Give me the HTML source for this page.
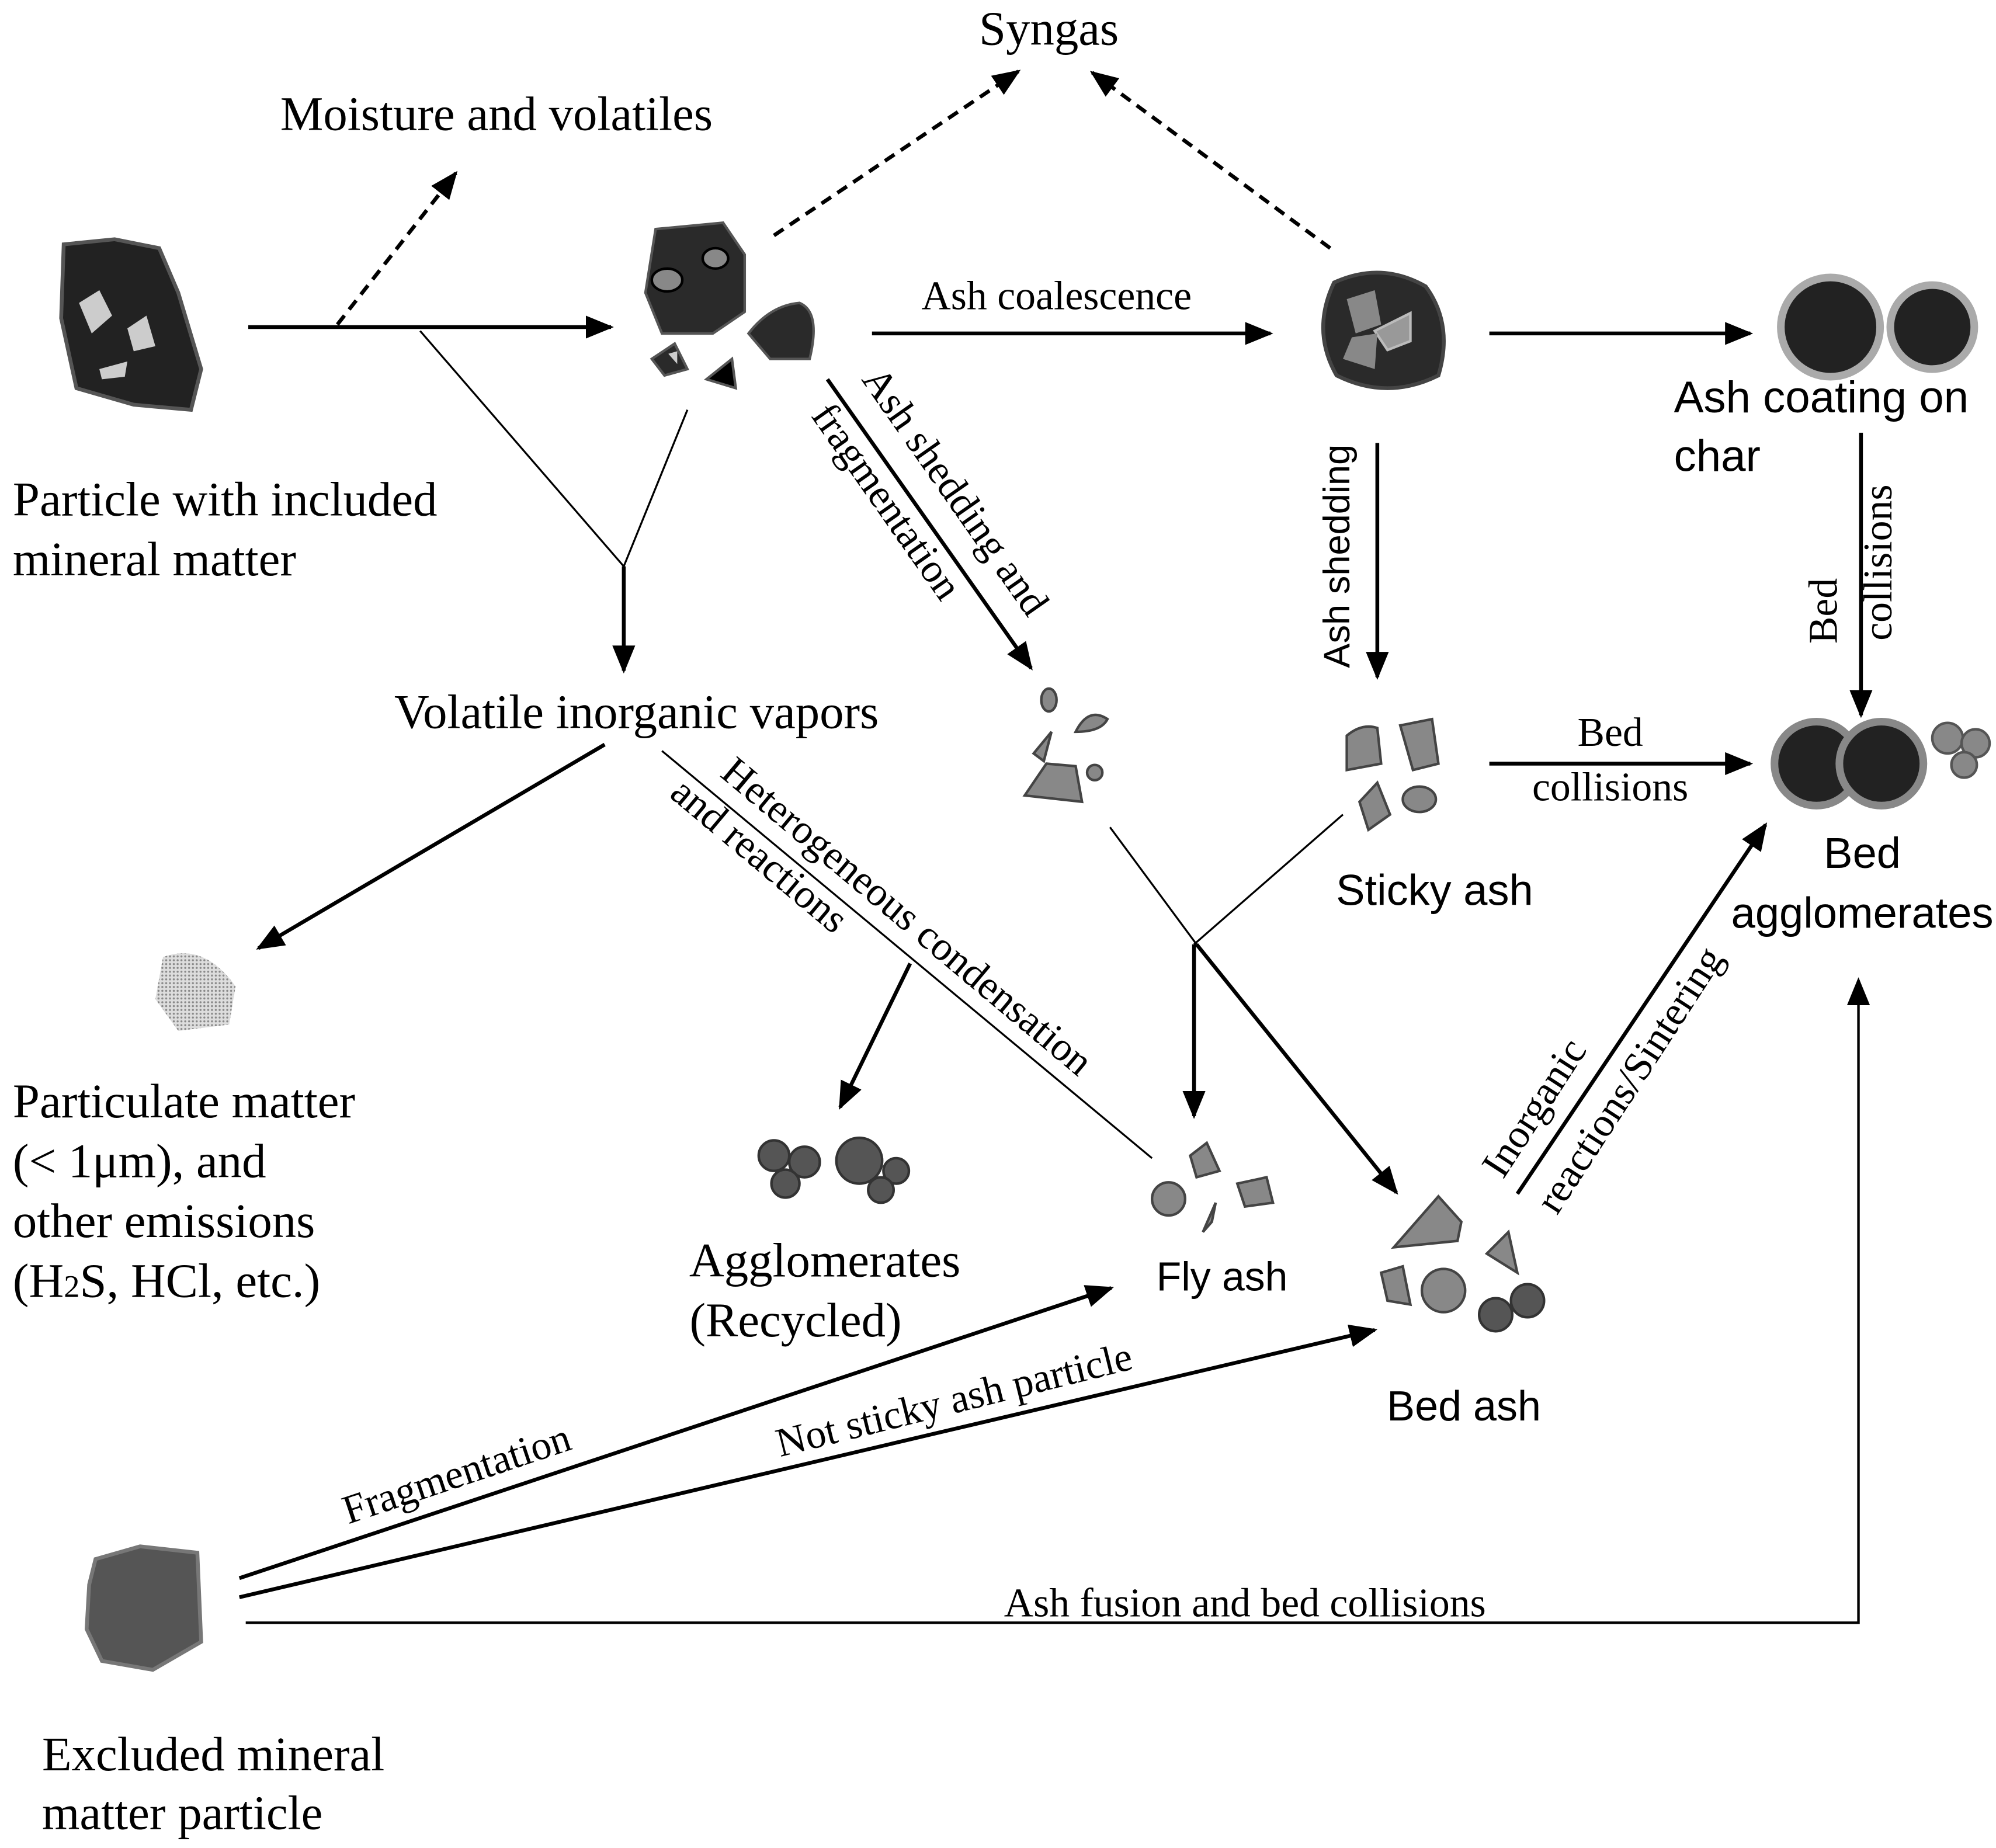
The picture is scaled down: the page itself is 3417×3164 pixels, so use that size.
<!DOCTYPE html>
<html><head><meta charset="utf-8"><style>
html,body{margin:0;padding:0;background:#fff;}
svg{display:block;}
.s{font-family:"Liberation Serif",serif;font-size:38px;fill:#000;}
.m{font-family:"Liberation Serif",serif;font-size:32px;fill:#000;}
.a{font-family:"Liberation Sans",sans-serif;font-size:34px;fill:#000;}
</style></head><body>
<svg width="3417" height="3164" viewBox="0 0 1568 1452" xmlns="http://www.w3.org/2000/svg">
<defs>
<marker id="ah" viewBox="0 0 10 10" refX="9" refY="5" markerWidth="22" markerHeight="18" markerUnits="userSpaceOnUse" orient="auto" preserveAspectRatio="none"><path d="M0,0 L10,5 L0,10 z" fill="#000"/></marker>
<pattern id="dots" width="3" height="3" patternUnits="userSpaceOnUse"><rect width="3" height="3" fill="#ddd"/><circle cx="1.5" cy="1.5" r="0.8" fill="#888"/></pattern>
</defs>
<g stroke="#000" fill="none">
<line x1="195" y1="257" x2="480" y2="257" stroke-width="3" marker-end="url(#ah)"/>
<line x1="265" y1="255" x2="358" y2="136" stroke-width="3" stroke-dasharray="9,6" marker-end="url(#ah)"/>
<line x1="608" y1="185" x2="800" y2="56" stroke-width="3" stroke-dasharray="9,6" marker-end="url(#ah)"/>
<line x1="1045" y1="195" x2="858" y2="57" stroke-width="3" stroke-dasharray="9,6" marker-end="url(#ah)"/>
<line x1="685" y1="262" x2="998" y2="262" stroke-width="3" marker-end="url(#ah)"/>
<line x1="1170" y1="262" x2="1375" y2="262" stroke-width="3" marker-end="url(#ah)"/>
<line x1="1462" y1="340" x2="1462" y2="562" stroke-width="3" marker-end="url(#ah)"/>
<line x1="1082" y1="348" x2="1082" y2="532" stroke-width="3" marker-end="url(#ah)"/>
<line x1="650" y1="298" x2="810" y2="525" stroke-width="3" marker-end="url(#ah)"/>
<line x1="330" y1="260" x2="490" y2="445" stroke-width="1.5"/>
<line x1="540" y1="322" x2="490" y2="445" stroke-width="1.5"/>
<line x1="490" y1="445" x2="490" y2="527" stroke-width="3" marker-end="url(#ah)"/>
<line x1="475" y1="585" x2="203" y2="745" stroke-width="3" marker-end="url(#ah)"/>
<line x1="520" y1="590" x2="905" y2="910" stroke-width="1.5"/>
<line x1="715" y1="757" x2="660" y2="870" stroke-width="3" marker-end="url(#ah)"/>
<line x1="872" y1="650" x2="940" y2="742" stroke-width="1.5"/>
<line x1="940" y1="742" x2="1097" y2="937" stroke-width="3" marker-end="url(#ah)"/>
<line x1="1055" y1="640" x2="938" y2="742" stroke-width="1.5"/>
<line x1="938" y1="742" x2="938" y2="877" stroke-width="3" marker-end="url(#ah)"/>
<line x1="1170" y1="600" x2="1375" y2="600" stroke-width="3" marker-end="url(#ah)"/>
<line x1="1192" y1="938" x2="1387" y2="648" stroke-width="3" marker-end="url(#ah)"/>
<line x1="188" y1="1240" x2="873" y2="1012" stroke-width="3" marker-end="url(#ah)"/>
<line x1="188" y1="1255" x2="1080" y2="1045" stroke-width="3" marker-end="url(#ah)"/>
<polyline points="193,1275 1460,1275 1460,770" stroke-width="2" marker-end="url(#ah)"/>
</g>
<path d="M50,192 L90,188 L125,195 L140,230 L158,290 L150,322 L105,318 L60,305 L48,250 Z" fill="#222" stroke="#555" stroke-width="3"/>
<path d="M62,238 L78,228 L88,248 L72,262 Z" fill="#ccc"/>
<path d="M100,258 L115,248 L122,272 L105,276 Z" fill="#ccc"/>
<path d="M78,290 L100,284 L98,296 L80,298 Z" fill="#ccc"/>
<path d="M515,180 L568,175 L585,200 L585,245 L560,262 L520,262 L507,230 Z" fill="#2a2a2a" stroke="#555" stroke-width="2"/>
<ellipse cx="524" cy="220" rx="12" ry="9" fill="#888" stroke="#000" stroke-width="2"/>
<ellipse cx="562" cy="203" rx="10" ry="8" fill="#888" stroke="#000" stroke-width="2"/>
<path d="M588,262 Q605,240 628,238 Q645,245 636,282 L605,282 Z" fill="#2a2a2a" stroke="#555" stroke-width="2"/>
<path d="M512,282 L530,270 L540,290 L522,295 Z" fill="#2a2a2a" stroke="#555" stroke-width="2"/>
<path d="M525,278 L532,276 L532,286 Z" fill="#ccc"/>
<path d="M555,298 L575,282 L578,305 Z" fill="#000" stroke="#555" stroke-width="2"/>
<path d="M1048,222 Q1085,205 1120,225 Q1142,255 1130,295 Q1090,315 1050,295 Q1030,260 1048,222 Z" fill="#2a2a2a" stroke="#444" stroke-width="3"/>
<path d="M1058,235 L1080,228 L1085,255 L1065,262 Z" fill="#888"/>
<path d="M1080,260 L1108,246 L1108,268 L1090,275 Z" fill="#999" stroke="#bbb" stroke-width="2"/>
<path d="M1062,265 L1082,262 L1080,290 L1055,282 Z" fill="#888"/>
<circle cx="1438" cy="257" r="39" fill="#222" stroke="#aaa" stroke-width="6"/>
<circle cx="1518" cy="257" r="33" fill="#222" stroke="#aaa" stroke-width="6"/>
<g fill="#888" stroke="#444" stroke-width="2">
<ellipse cx="824" cy="550" rx="6" ry="9"/>
<path d="M845,575 Q855,555 870,565 Q865,575 845,575 Z"/>
<path d="M812,592 L826,575 L820,598 Z"/>
<path d="M805,625 L822,600 L845,602 L850,630 Z"/>
<circle cx="860" cy="607" r="6"/>
<path d="M1058,578 Q1070,568 1082,572 L1085,600 L1058,605 Z"/>
<path d="M1100,570 L1125,565 L1130,600 L1110,605 Z"/>
<path d="M1068,630 L1082,615 L1092,640 L1075,652 Z"/>
<ellipse cx="1115" cy="628" rx="13" ry="10"/>
<circle cx="918" cy="942" r="13"/>
<path d="M935,908 L948,898 L958,920 L940,925 Z"/>
<path d="M972,930 L995,925 L1000,945 L978,948 Z"/>
<path d="M945,968 L955,945 L952,960 Z"/>
<path d="M1095,980 L1130,940 L1148,960 L1145,975 Z"/>
<path d="M1168,985 L1185,968 L1192,1000 Z"/>
<path d="M1085,1000 L1102,995 L1108,1025 L1090,1022 Z"/>
<circle cx="1134" cy="1014" r="17"/>
</g>
<circle cx="1175" cy="1033" r="13" fill="#555" stroke="#333" stroke-width="2"/>
<circle cx="1200" cy="1022" r="13" fill="#555" stroke="#333" stroke-width="2"/>
<g fill="#555" stroke="#333" stroke-width="2">
<circle cx="608" cy="908" r="12"/><circle cx="632" cy="913" r="12"/><circle cx="617" cy="930" r="11"/>
<circle cx="675" cy="912" r="18"/><circle cx="704" cy="920" r="10"/><circle cx="692" cy="935" r="10"/>
</g>
<circle cx="1427" cy="600" r="33" fill="#222" stroke="#888" stroke-width="6"/>
<circle cx="1478" cy="600" r="33" fill="#222" stroke="#888" stroke-width="6"/>
<g fill="#888" stroke="#555" stroke-width="2"><circle cx="1530" cy="580" r="12"/><circle cx="1552" cy="584" r="11"/><circle cx="1543" cy="601" r="10"/></g>
<path d="M128,752 Q160,740 185,775 L180,805 L140,810 L122,785 Z" fill="url(#dots)"/>
<path d="M75,1225 L110,1215 L155,1220 L158,1290 L120,1312 L80,1305 L68,1280 L70,1245 Z" fill="#555" stroke="#777" stroke-width="3"/>
<text class="s" x="824" y="35" text-anchor="middle">Syngas</text>
<text class="s" x="390" y="102" text-anchor="middle">Moisture and volatiles</text>
<text class="s" x="10" y="405">Particle with included</text>
<text class="s" x="10" y="452">mineral matter</text>
<text class="m" x="830" y="243" text-anchor="middle">Ash coalescence</text>
<text class="a" x="1315" y="324" style="font-size:35px">Ash coating on</text>
<text class="a" x="1315" y="370" style="font-size:35px">char</text>
<text class="m" transform="translate(1486,442) rotate(-90)" text-anchor="middle">collisions</text>
<text class="m" transform="translate(1443,480) rotate(-90)" text-anchor="middle">Bed</text>
<text class="a" transform="translate(1060,437) rotate(-90)" text-anchor="middle" style="font-size:29px">Ash shedding</text>
<text class="m" transform="translate(742,392) rotate(55)" text-anchor="middle">Ash shedding and</text>
<text class="m" transform="translate(688,400) rotate(55)" text-anchor="middle">fragmentation</text>
<text class="s" x="500" y="572" text-anchor="middle">Volatile inorganic vapors</text>
<text class="m" transform="translate(706,728) rotate(40)" text-anchor="middle">Heterogeneous condensation</text>
<text class="m" transform="translate(590,680) rotate(40)" text-anchor="middle">and reactions</text>
<text class="m" x="1265" y="586" text-anchor="middle">Bed</text>
<text class="m" x="1265" y="629" text-anchor="middle">collisions</text>
<text class="a" x="1127" y="711" text-anchor="middle">Sticky ash</text>
<text class="a" x="1463" y="682" text-anchor="middle">Bed</text>
<text class="a" x="1463" y="729" text-anchor="middle">agglomerates</text>
<text class="s" x="10" y="878">Particulate matter</text>
<text class="s" x="10" y="925">(&lt; 1μm), and</text>
<text class="s" x="10" y="972">other emissions</text>
<text class="s" x="10" y="1019">(H<tspan style="font-size:25px">2</tspan>S, HCl, etc.)</text>
<text class="s" x="648" y="1003" text-anchor="middle">Agglomerates</text>
<text class="s" x="625" y="1050" text-anchor="middle">(Recycled)</text>
<text class="a" x="960" y="1014" text-anchor="middle" style="font-size:32px">Fly ash</text>
<text class="a" x="1150" y="1116" text-anchor="middle" style="font-size:33px">Bed ash</text>
<text class="m" transform="translate(1289,854) rotate(-57)" text-anchor="middle">reactions/Sintering</text>
<text class="m" transform="translate(1214,876) rotate(-57)" text-anchor="middle">Inorganic</text>
<text class="m" transform="translate(362,1168) rotate(-18.5)" text-anchor="middle">Fragmentation</text>
<text class="m" transform="translate(752,1110) rotate(-14)" text-anchor="middle">Not sticky ash particle</text>
<text class="m" x="978" y="1270" text-anchor="middle">Ash fusion and bed collisions</text>
<text class="s" x="33" y="1391">Excluded mineral</text>
<text class="s" x="33" y="1437">matter particle</text>
</svg>
</body></html>
